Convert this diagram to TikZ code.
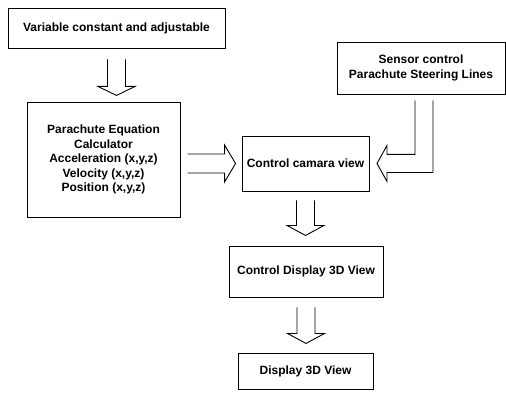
\documentclass[tikz,border=0pt]{standalone}
\usepackage{fontspec}
\setmainfont{Liberation Sans}
\usetikzlibrary{calc}

\begin{document}
\begin{tikzpicture}[x=1pt,y=-1pt,
    box/.style={draw=black,line width=0.9pt,fill=white,inner sep=0pt,
      align=center,font=\bfseries\fontsize{12}{14.4}\selectfont},
    blk/.style={draw=black,line width=0.9pt,line join=miter}]
  \useasboundingbox[fill=white] (0,0) rectangle (506,393);

  % blocks
  \node[box,minimum width=217,minimum height=40] (vars) at (116.5,28)
    {Variable constant and adjustable};
  \node[box,minimum width=153,minimum height=115] (calc) at (103.5,159.5)
    {Parachute Equation\\Calculator\\Acceleration (x,y,z)\\Velocity (x,y,z)\\Position (x,y,z)};
  \node[box,minimum width=127,minimum height=55] (cam) at (305.5,163.5)
    {Control camara view};
  \node[box,minimum width=168,minimum height=52] (sensor) at (421,68)
    {Sensor control\\Parachute Steering Lines};
  \node[box,minimum width=154,minimum height=51] (cdisp) at (306,271.5)
    {Control Display 3D View};
  \node[box,minimum width=135,minimum height=36] (disp) at (305.5,371)
    {Display 3D View};

  % hollow block arrows
  \draw[blk] ($(vars.south)+(-9,11)$) -- ++(0,27) -- ++(-9.5,0) -- ++(18.5,9)
    -- ++(18.5,-9) -- ++(-9.5,0) -- ++(0,-27);
  \draw[blk] ($(cam.west)+(-54,-9.5)$) -- ++(37,0) -- ++(0,-9) -- ++(11,18.5)
    -- ++(-11,18.5) -- ++(0,-9) -- ++(-37,0);
  \draw[blk] ($(sensor.south)+(12,6)$) -- ++(0,72) -- ++(-46,0) -- ++(0,9)
    -- ++(-10,-18) -- ++(10,-18) -- ++(0,9) -- ++(28,0) -- ++(0,-54);
  \draw[blk] ($(cam.south)+(-9,9)$) -- ++(0,25) -- ++(-9.5,0) -- ++(18.5,10)
    -- ++(18.5,-10) -- ++(-9.5,0) -- ++(0,-25);
  \draw[blk] ($(cdisp.south)+(-9,10)$) -- ++(0,26) -- ++(-9.5,0) -- ++(18.5,10)
    -- ++(18.5,-10) -- ++(-9.5,0) -- ++(0,-26);
\end{tikzpicture}
\end{document}
